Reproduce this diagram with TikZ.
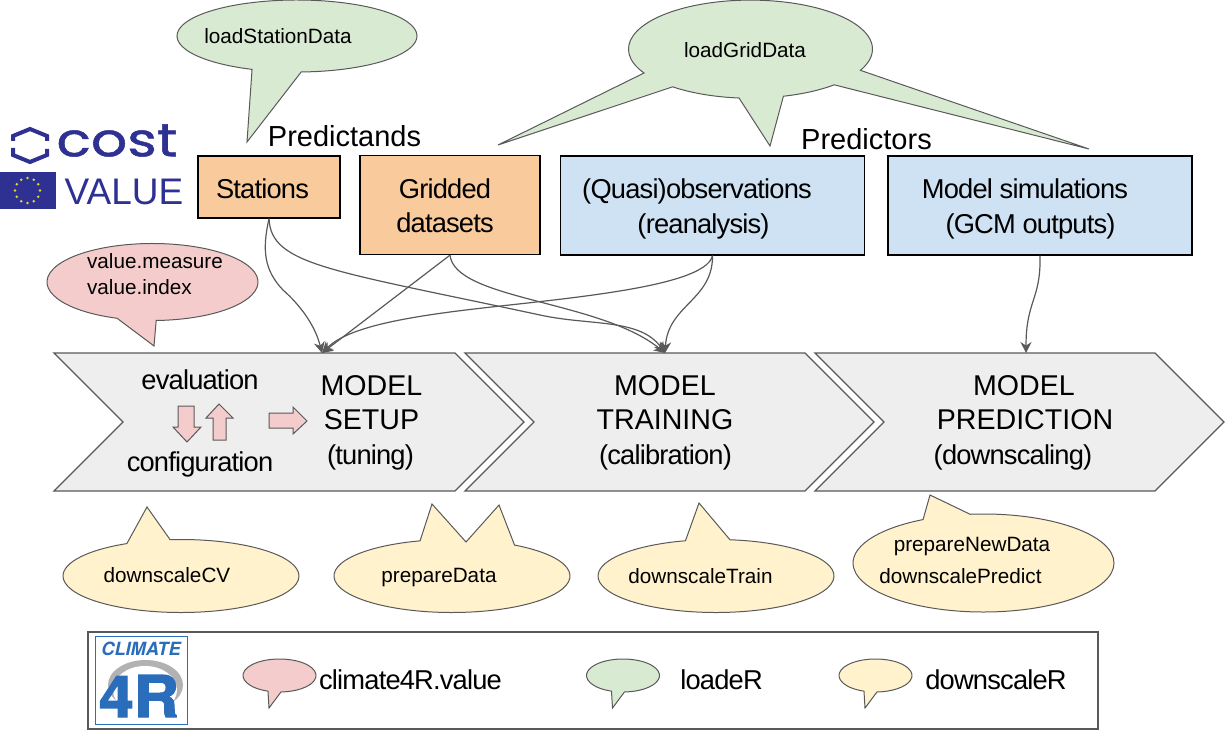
\documentclass[tikz,border=0pt]{standalone}
\usepackage{graphicx}
\usepackage{fontspec}
\setmainfont{Liberation Sans}
\newfontfamily\tight[LetterSpace=-3]{Liberation Sans}
\newfontfamily\logofont[FakeBold=1]{Poppins}
\newfontfamily\heavyfont[FakeBold=2]{TeX Gyre Heros}
\newfontfamily\slantfont{TeX Gyre Heros}
\definecolor{orangebox}{HTML}{F9CB9C}
\definecolor{bluebox}{HTML}{CFE2F3}
\definecolor{greenb}{HTML}{D9EAD3}
\definecolor{pinkb}{HTML}{F4CCCC}
\definecolor{yellowb}{HTML}{FFF2CC}
\definecolor{chev}{HTML}{EEEEEE}
\definecolor{edge}{HTML}{595959}
\definecolor{costblue}{HTML}{2E3192}
\definecolor{c4r}{HTML}{2A6EBB}
\usetikzlibrary{arrows.meta}
\tikzset{
  x=1pt,y=-1pt,
  box/.style={draw=black,line width=1.3pt},
  bub/.style={draw=edge,line width=1pt},
  chevron/.style={draw=edge,line width=1.3pt,fill=chev},
  link/.style={draw=edge,line width=1.2pt,-{Stealth[length=11pt,width=11pt]}},
  lab/.style={inner sep=0pt,font=\fontsize{27.3}{34}\selectfont\tight,align=center,text=black},
  small/.style={inner sep=0pt,font=\fontsize{20.7}{26}\selectfont,align=left,text=black},
  big/.style={inner sep=0pt,font=\fontsize{28.6}{34.5}\selectfont,align=center,text=black},
  head/.style={inner sep=0pt,font=\fontsize{29}{34}\selectfont,text=black},
  pinkarrow/.style={draw=edge,line width=1pt,fill=pinkb},
}
% \bubbleshape{fill}{cx}{cy}{rx}{ry}{start}{end}{tail path}
\newcommand{\bubbleshape}[8]{%
  \draw[bub,fill=#1] (#2,#3) ++(#6:#4 and #5) arc[start angle=#6,end angle=#7,x radius=#4,y radius=#5] #8 -- cycle;}
\begin{document}
\begin{tikzpicture}
\useasboundingbox (0,0) rectangle (1225,730);
% logos
\draw[costblue,line width=4pt,line join=miter] (13,141) -- (13,136) -- (30,129) -- (47,136) -- (47,141);
\draw[costblue,line width=4pt,line join=miter] (13,148) -- (13,155) -- (30,162) -- (47,155) -- (47,149);
\node[inner sep=0pt,text=costblue] (cost) at (117,140.5) {\resizebox{121pt}{32pt}{\logofont cost}};
\fill[costblue] (0,172) rectangle (56,209);
\foreach \a in {0,30,...,330} \fill[yellow!90!black] (27.5,190.5) ++(\a:12.5) circle[radius=1.4];
\node[inner sep=0pt,text=costblue,font=\fontsize{37}{40}\selectfont] (value) at (124,192) {VALUE};
% bubbles top
\bubbleshape{greenb}{297}{36}{120}{36}{112}{448}{-- (247,142)}
\node[small] (tstation) at (278,36) {loadStationData};
\draw[bub,fill=greenb] (751,49) ++(47:122 and 49)
  arc[start angle=47,end angle=74.6,x radius=122,y radius=49] -- (770,146) -- (739,98)
  arc[start angle=95.6,end angle=129.9,x radius=122,y radius=49] -- (498,145) -- (644,73)
  arc[start angle=150.8,end angle=385.7,x radius=122,y radius=49] -- (1089,149) -- cycle;
\node[small] (tgrid) at (745,50) {loadGridData};
\bubbleshape{pinkb}{152.5}{282}{105.5}{38.5}{109.6}{448}{-- (154,346)}
\node[small,align=left] (tvalue) at (155,274) {value.measure\\value.index};
% headers
\node[head] (predictands) at (344.5,136) {Predictands};
\node[head] (predictors) at (866.5,139) {Predictors};
% boxes
\node[box,fill=orangebox,minimum width=142pt,minimum height=62pt] (stations) at (269,187) {};
\node[lab] (tstations) at (262.5,189) {Stations};
\node[box,fill=orangebox,minimum width=180pt,minimum height=99pt] (gridded) at (450,205) {};
\node[lab] (tgridded) at (445,206) {Gridded\\datasets};
\node[box,fill=bluebox,minimum width=304pt,minimum height=99pt] (quasi) at (712.5,205.5) {};
\node[lab] (tquasi1) at (697,191) {(Quasi)observations};
\node[lab] (tquasi2) at (703.5,226) {(reanalysis)};
\node[box,fill=bluebox,minimum width=304pt,minimum height=99pt] (model) at (1040,205.5) {};
\node[lab] (tmodel1) at (1025,189) {Model simulations};
\node[lab] (tmodel2) at (1030.5,226) {(GCM outputs)};
% chevrons
\draw[chevron] (815,353) -- (1155,353) -- (1224,422) -- (1155,491) -- (815,491) -- (884,422) -- cycle;
\draw[chevron] (465,353) -- (805,353) -- (874,422) -- (805,491) -- (465,491) -- (534,422) -- cycle;
\draw[chevron] (54,353) -- (455,353) -- (524,422) -- (455,491) -- (54,491) -- (123,422) -- cycle;
\coordinate (setupIn) at (322,353);
\coordinate (trainIn) at (665,353);
\coordinate (predIn) at (1026,353);
% connectors
\draw[link] (gridded.south) -- (setupIn);
\draw[link] (stations.south) .. controls (262,250) and (264,270) .. (283,290) .. controls (300,305) and (315,325) .. (setupIn);
\draw[link] (quasi.south) .. controls (705,290) and (540,300) .. (450,312) .. controls (390,320) and (345,330) .. (setupIn);
\draw[link] (gridded.south) .. controls (455,300) and (600,300) .. (trainIn);
\draw[link] (stations.south) .. controls (271,265) and (330,270) .. (540,315) .. controls (590,326) and (640,318) .. (trainIn);
\draw[link] (quasi.south) .. controls (713,300) and (668,305) .. (trainIn);
\draw[link] (model.south) .. controls (1041,300) and (1026,300) .. (predIn);
% chevron text
\node[big] (setup) at (371.5,386) {MODEL};
\node[big] (setup2) at (371.5,420) {SETUP};
\node[lab] (setup3) at (370.5,457) {(tuning)};
\node[big] (train) at (665,386) {MODEL};
\node[big] (train2) at (665,420) {TRAINING};
\node[lab] (train3) at (665.5,457) {(calibration)};
\node[big] (pred) at (1024,386) {MODEL};
\node[big] (pred2) at (1025,420) {PREDICTION};
\node[lab] (pred3) at (1013,457) {(downscaling)};
\node[lab] (evaluation) at (200,380) {evaluation};
\node[lab] (config) at (200,464) {configuration};
\draw[pinkarrow] (178,406) -- (194,406) -- (194,427) -- (201,427) -- (187,442) -- (173,427) -- (178,427) -- cycle;
\draw[pinkarrow] (213,440) -- (226,440) -- (226,418) -- (233,418) -- (219,404) -- (206,418) -- (213,418) -- cycle;
\draw[pinkarrow] (269,413) -- (293,413) -- (293,407) -- (307,421) -- (293,434) -- (293,428) -- (269,428) -- cycle;
% bottom bubbles
\bubbleshape{yellowb}{181}{576}{118}{36.5}{-95.3}{242.7}{-- (147,507)}
\node[small] (tcv) at (167,575) {downscaleCV};
\bubbleshape{yellowb}{452}{576}{118}{36.5}{-58}{254.3}{-- (432,504) -- (466,542) -- (499,505)}
\node[small] (tprep) at (439,578) {prepareData};
\bubbleshape{yellowb}{716}{576}{118}{36.5}{-83.2}{255}{-- (699,503)}
\node[small] (ttrain) at (700.5,576) {downscaleTrain};
\bubbleshape{yellowb}{983.5}{563}{130.5}{49}{-95.9}{242.4}{-- (930,495)}
\node[small] (tnew) at (972,546.5) {prepareNewData};
\node[small] (tpredict) at (960.5,576) {downscalePredict};
% legend
\draw[draw=edge,line width=1.2pt] (88,632) rectangle (1098,729);
\draw[draw=c4r,line width=0.8pt] (95.5,636.5) rectangle (187,724);
\node[inner sep=0pt,text=c4r,font=\fontsize{18.2}{20}\selectfont\slantfont\bfseries\itshape] (climate) at (141,649) {CLIMATE};
\fill[gray!60] (145.5,685) ellipse[x radius=37.5,y radius=25];
\fill[white] (145,690) ellipse[x radius=32,y radius=24];
\node[inner sep=0pt,text=c4r] (fourR) at (139,696) {\resizebox{80pt}{42pt}{\heavyfont\bfseries 4R}};
\bubbleshape{pinkb}{279.5}{675.5}{36.5}{16.5}{108.4}{447.7}{-- (269,708)}
\node[lab] (tlegend1) at (410.5,680) {climate4R.value};
\bubbleshape{greenb}{623}{675.5}{36.5}{16.5}{108.4}{447.7}{-- (612.5,708)}
\node[lab] (tlegend2) at (721.5,680) {loadeR};
\bubbleshape{yellowb}{875.5}{675.5}{36.5}{16.5}{108.4}{447.7}{-- (865,708)}
\node[lab] (tlegend3) at (996,680) {downscaleR};
\end{tikzpicture}
\end{document}
